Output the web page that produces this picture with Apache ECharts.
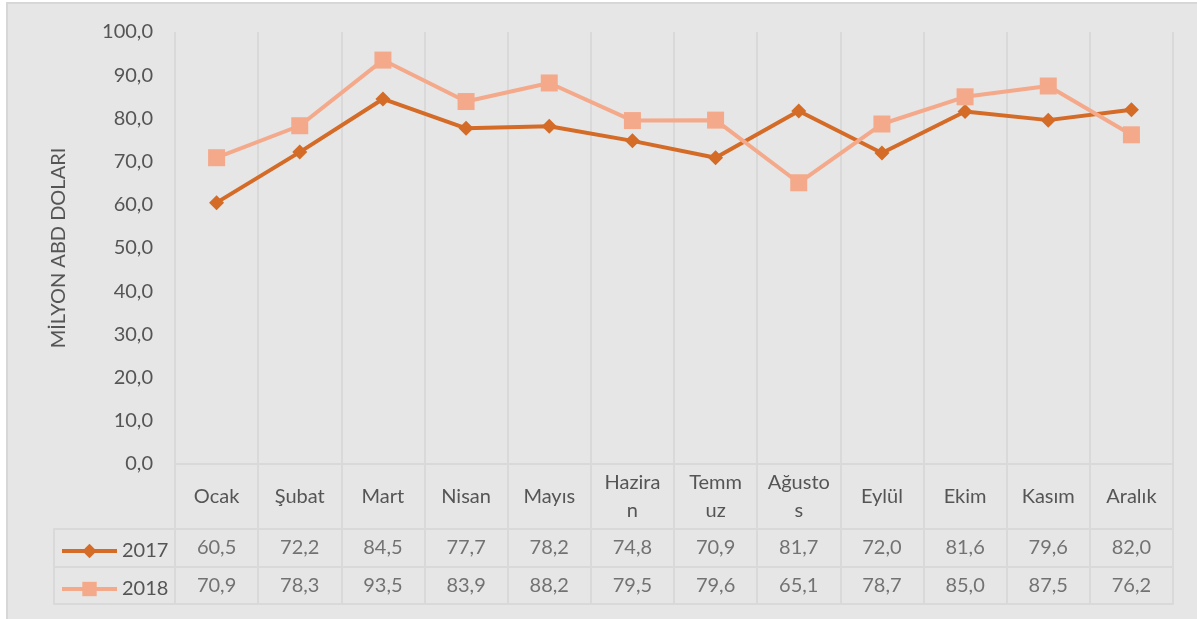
<!DOCTYPE html>
<html>
<head>
<meta charset="utf-8">
<script src="https://cdn.jsdelivr.net/npm/echarts@6/dist/echarts.min.js"></script>
<style>
  html, body { margin: 0; padding: 0; background: #fff; }
  #box { position: absolute; left: 6px; top: 2px; right: 0; bottom: 0;
         background: #e6e6e6; border-left: 2px solid #d7d7d7; border-top: 2px solid #d7d7d7; }
  #main { position: absolute; left: 0; top: 0; width: 1197px; height: 619px; }
</style>
</head>
<body>
<div id="box"></div>
<div id="main"></div>
<script>
// aylar
const months = ["Ocak", "Şubat", "Mart", "Nisan", "Mayıs", "Haziran", "Temmuz", "Ağustos", "Eylül", "Ekim", "Kasım", "Aralık"];
// Excel'deki gibi kırpılmış etiketler
const monthLabels = ["Ocak", "Şubat", "Mart", "Nisan", "Mayıs", "Hazira\nn", "Temm\nuz", "Ağusto\ns", "Eylül", "Ekim", "Kasım", "Aralık"];
const years = ["2017", "2018"];
const values2017 = [60.5, 72.2, 84.5, 77.7, 78.2, 74.8, 70.9, 81.7, 72.0, 81.6, 79.6, 82.0];
const values2018 = [70.9, 78.3, 93.5, 83.9, 88.2, 79.5, 79.6, 65.1, 78.7, 85.0, 87.5, 76.2];
const yTicks = { min: 0, max: 100, interval: 10 };

const txt = "#555555";
const grid = "#d9d9d9";
const c2017 = "#d46b27";
const c2018 = "#f4a98a";
const font = "Lato";

const fmt = (v) => v.toFixed(1).replace(".", ",");

const chartDom = document.getElementById("main");
const myChart = echarts.init(chartDom);

// tablo hücreleri için veri
const cells = (name, vals) => vals.map((v, i) => [months[i], name, v]);

const option = {
  animation: false,
  textStyle: { fontFamily: font },
  grid: [
    { left: 175, top: 32, width: 998, height: 432 },
    { left: 175, top: 464, width: 998, height: 65 },
    { left: 175, top: 529, width: 998, height: 75 }
  ],
  legend: {
    data: years,
    orient: "vertical",
    left: 55,
    top: 536,
    itemWidth: 55,
    itemHeight: 18,
    itemGap: 18,
    lineStyle: { width: 4 },
    textStyle: { color: txt, fontSize: 20, fontFamily: font },
    selectedMode: false
  },
  xAxis: [
    {
      gridIndex: 0, type: "category", data: months, boundaryGap: true,
      axisLine: { show: true, lineStyle: { color: grid, width: 2 } },
      axisTick: { show: false },
      splitLine: { show: true, lineStyle: { color: grid, width: 2 } },
      axisLabel: {
        interval: 0, margin: 33, verticalAlign: "middle", lineHeight: 28,
        color: txt, fontSize: 20, fontFamily: font,
        formatter: (v, i) => monthLabels[i]
      }
    },
    {
      gridIndex: 1, type: "category", data: months, boundaryGap: true,
      axisLine: { show: true, lineStyle: { color: grid, width: 2 } },
      axisTick: { show: false }, axisLabel: { show: false },
      splitLine: { show: true, lineStyle: { color: grid, width: 2 } }
    },
    {
      gridIndex: 2, type: "category", data: months, boundaryGap: true,
      axisLine: { show: true, lineStyle: { color: grid, width: 2 } },
      axisTick: { show: false }, axisLabel: { show: false },
      splitLine: { show: true, lineStyle: { color: grid, width: 2 } }
    }
  ],
  yAxis: [
    {
      gridIndex: 0, type: "value", min: yTicks.min, max: yTicks.max, interval: yTicks.interval,
      name: "MİLYON ABD DOLARI", nameLocation: "middle", nameGap: 106, nameRotate: 90,
      nameTextStyle: { color: txt, fontSize: 20, fontFamily: font },
      axisLine: { show: false }, axisTick: { show: false }, splitLine: { show: false },
      axisLabel: { color: txt, fontSize: 20, fontFamily: font, margin: 22, formatter: fmt }
    },
    {
      gridIndex: 1, type: "value", min: 0, max: 1,
      axisLine: { show: false }, axisTick: { show: false }, axisLabel: { show: false },
      splitLine: { show: false }
    },
    {
      gridIndex: 2, type: "category", data: years, inverse: true, boundaryGap: true,
      axisLine: { show: true, lineStyle: { color: grid, width: 2 } },
      axisTick: { show: true, length: 121, inside: false, lineStyle: { color: grid, width: 2 } },
      axisLabel: { show: false },
      splitLine: { show: true, lineStyle: { color: grid, width: 2 } }
    },
    {
      gridIndex: 2, type: "category", data: years, inverse: true, position: "left", offset: 121,
      axisLine: { show: true, lineStyle: { color: grid, width: 2 } },
      axisTick: { show: false }, axisLabel: { show: false }, splitLine: { show: false }
    }
  ],
  series: [
    {
      name: "2017", type: "line", xAxisIndex: 0, yAxisIndex: 0, data: values2017,
      symbol: "diamond", symbolSize: 15, color: c2017,
      lineStyle: { width: 4, color: c2017 }, itemStyle: { color: c2017 }
    },
    {
      name: "2018", type: "line", xAxisIndex: 0, yAxisIndex: 0, data: values2018,
      symbol: "rect", symbolSize: 17, color: c2018,
      lineStyle: { width: 4, color: c2018 }, itemStyle: { color: c2018 }
    },
    {
      name: "tablo2017", type: "scatter", xAxisIndex: 2, yAxisIndex: 2,
      data: cells("2017", values2017), symbolSize: 1, itemStyle: { color: "transparent" },
      label: { show: true, position: "inside", color: txt, fontSize: 20, fontFamily: font,
               formatter: (p) => fmt(p.value[2]) }
    },
    {
      name: "tablo2018", type: "scatter", xAxisIndex: 2, yAxisIndex: 2,
      data: cells("2018", values2018), symbolSize: 1, itemStyle: { color: "transparent" },
      label: { show: true, position: "inside", color: txt, fontSize: 20, fontFamily: font,
               formatter: (p) => fmt(p.value[2]) }
    }
  ]
};
option && myChart.setOption(option);
</script>
</body>
</html>
